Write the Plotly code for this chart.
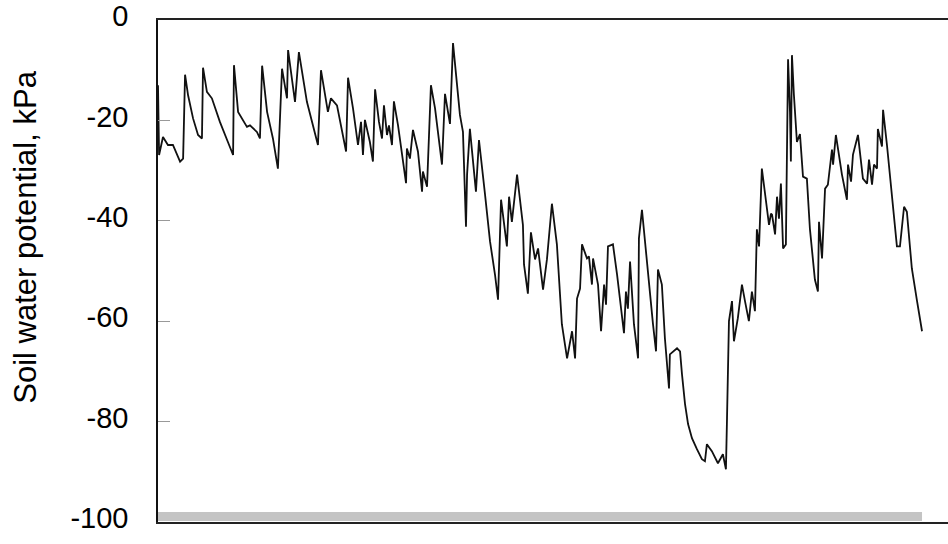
import plotly.graph_objects as go

# Day of record and soil water potential (kPa)
day = [
    0, 0.5, 2.3, 4.6, 6.9, 10.2, 11.6, 12.5, 13.9, 16.2, 18.5, 20.3, 20.8, 22.6, 24.9,
    28.6, 32.3, 34.7, 35.1, 37.0, 41.1, 42.5, 45.7, 47.1, 48.1, 50.4, 53.1, 55.4, 57.3,
    59.6, 60.1, 63.3, 65.1, 68.8, 73.9, 75.3, 78.5, 79.9, 82.7, 86.9, 87.8, 90.1, 92.4,
    93.8, 94.7, 95.6, 97.9, 99.3, 100.3, 102.1, 103.5, 104.4, 105.8, 106.7, 108.1, 109.0,
    110.9, 114.6, 115.0, 116.4, 117.8, 120.1, 122.0, 122.4, 124.3, 126.1, 128.0, 131.2,
    132.6, 134.9, 136.3, 139.5, 140.9, 142.3, 142.8, 144.1, 146.9, 148.3, 151.1, 153.4,
    155.7, 157.1, 158.5, 161.2, 162.2, 163.5, 165.9, 168.6, 169.1, 170.9, 172.3, 174.2,
    175.6, 177.9, 179.7, 182.0, 184.3, 186.6, 189.0, 191.3, 192.7, 193.6, 195.0, 195.9,
    198.2, 199.1, 200.5, 201.0, 203.3, 204.7, 206.1, 207.0, 207.9, 210.2, 212.1, 215.3,
    216.2, 217.1, 218.1, 219.9, 221.8, 222.2, 223.6, 226.8, 228.7, 230.1, 231.0, 232.8,
    234.2, 236.1, 236.5, 239.8, 241.2, 242.1, 243.5, 244.9, 246.7, 249.0, 251.3, 252.7,
    253.6, 255.9, 258.7, 261.0, 262.4, 262.9, 263.3, 263.8, 265.2, 266.1, 267.9, 269.8,
    271.2, 273.0, 274.4, 275.8, 276.7, 277.7, 279.0, 280.4, 282.3, 283.2, 283.7, 285.1,
    286.0, 286.9, 287.8, 288.8, 290.1, 291.1, 292.0, 292.4, 292.9, 293.8, 295.2, 296.6,
    298.0, 299.8, 301.2, 303.5, 304.9, 305.4, 306.8, 308.2, 309.5, 311.4, 311.9, 313.2,
    316.0, 318.3, 318.8, 320.2, 321.1, 323.4, 325.7, 327.6, 328.5, 329.9, 330.8, 332.2,
    332.6, 334.5, 335.0, 336.8, 339.1, 341.4, 342.8, 344.7, 346.0, 348.3, 350.7, 353.0,
]
potential = [
    -13.0, -26.9, -23.3, -24.9, -24.9, -28.2, -27.6, -10.9, -15.0, -19.6, -22.9, -23.6,
    -9.5, -14.3, -15.6, -20.3, -24.3, -26.9, -9.0, -18.3, -21.3, -21.0, -22.3, -23.6,
    -9.1, -18.3, -23.6, -29.6, -9.7, -15.6, -6.0, -16.3, -6.4, -16.3, -24.9, -10.0,
    -18.3, -15.6, -17.0, -26.2, -11.5, -17.6, -24.9, -20.3, -26.9, -19.9, -24.3, -28.2,
    -13.8, -20.3, -23.6, -17.0, -22.9, -21.0, -24.9, -16.2, -21.0, -32.5, -25.6, -27.6,
    -21.9, -26.2, -34.2, -30.2, -33.2, -13.0, -17.6, -28.8, -14.7, -20.7, -4.6, -18.9,
    -22.3, -41.2, -30.8, -21.7, -34.2, -23.9, -34.8, -44.1, -50.7, -55.7, -35.8, -45.1,
    -35.2, -40.2, -30.8, -40.8, -48.7, -54.5, -42.3, -47.7, -45.5, -53.7, -47.7, -36.6,
    -44.7, -60.6, -67.4, -62.0, -67.4, -55.5, -53.5, -44.7, -47.5, -47.1, -52.7, -47.5,
    -52.7, -62.0, -52.7, -56.7, -45.1, -44.7, -50.7, -62.4, -54.1, -57.5, -48.1, -60.6,
    -67.4, -43.5, -37.8, -52.7, -60.6, -66.0, -49.7, -52.7, -63.4, -73.4, -66.6, -65.4,
    -66.0, -70.6, -76.5, -80.5, -83.3, -85.5, -87.5, -87.9, -84.5, -85.9, -88.3, -86.5,
    -89.5, -79.3, -66.6, -60.0, -56.0, -64.0, -59.4, -52.7, -56.0, -60.0, -54.1, -58.0,
    -41.7, -45.1, -29.6, -34.8, -40.8, -38.6, -38.8, -42.7, -35.2, -39.6, -32.6, -45.5,
    -44.7, -7.8, -18.3, -28.2, -7.0, -14.9, -24.3, -22.7, -31.2, -31.6, -41.6, -51.7,
    -54.1, -40.2, -47.5, -33.6, -32.8, -25.8, -28.8, -22.9, -30.8, -35.8, -28.8, -32.2,
    -26.8, -22.9, -31.6, -32.6, -27.8, -32.8, -28.8, -29.6, -21.7, -25.2, -17.9, -24.9,
    -34.8, -45.1, -45.1, -37.2, -38.2, -49.5, -56.0, -62.0,
]

# Shaded strip along the floor of the axis
band_day = [0, 353]
band_level = [-98.9, -98.9]

y_ticks = [0, -20, -40, -60, -80, -100]
y_range = [-100, 0]
x_range = [0, 365]

FONT = "Arial, Liberation Sans, sans-serif"

fig = go.Figure()
fig.add_trace(go.Scatter(
    x=band_day, y=band_level, mode="lines",
    line=dict(color="#c4c4c4", width=9),
    hoverinfo="skip", showlegend=False,
))
fig.add_trace(go.Scatter(
    x=day, y=potential, mode="lines",
    line=dict(color="#111111", width=1.8),
    showlegend=False,
))

fig.update_layout(
    width=948, height=544,
    margin=dict(l=158, r=0, t=17, b=22),
    paper_bgcolor="white", plot_bgcolor="white",
    font=dict(family=FONT, color="black"),
    xaxis=dict(
        range=x_range, showticklabels=False, ticks="", showgrid=False,
        zeroline=False, showline=True, linecolor="#222222", linewidth=1.5,
        mirror=True,
    ),
    yaxis=dict(
        range=y_range, tickvals=y_ticks, ticktext=[str(v) for v in y_ticks],
        tickfont=dict(size=29, family=FONT, color="black"),
        ticks="inside", ticklen=12, tickcolor="#999999", tickwidth=1,
        ticklabelstandoff=22, ticklabelshift=-4, ticklabeloverflow="allow",
        showgrid=False, zeroline=False,
        showline=True, linecolor="#111111", linewidth=1.5,
    ),
    annotations=[dict(
        text="Soil water potential, kPa", textangle=-90,
        xref="paper", yref="paper",
        x=(26 - 158) / 790, y=(522 - 236) / 505,
        xanchor="center", yanchor="middle", showarrow=False,
        font=dict(size=31, family=FONT, color="black"),
    )],
)

fig.write_html("out.html")
